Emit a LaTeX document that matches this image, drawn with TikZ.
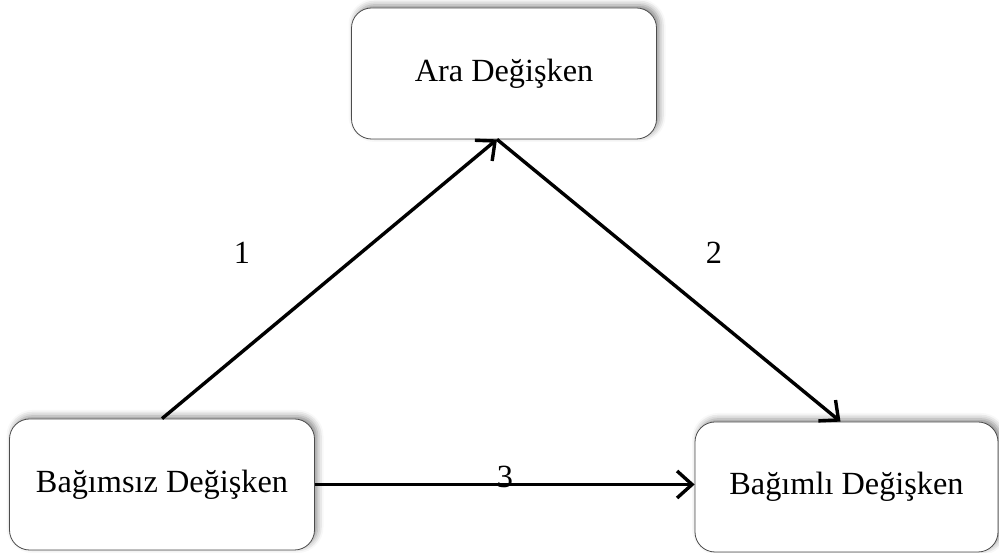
\documentclass[tikz,border=0pt]{standalone}
\usepackage{fontspec}
\setmainfont{Liberation Serif}
\usetikzlibrary{arrows.meta,shadows.blur}
\tikzset{
  varbox/.style={draw=black!70, line width=0.8pt, rounded corners=20pt, fill=white,
    minimum width=305pt, minimum height=131pt,
    blur shadow={shadow xshift=3pt, shadow yshift=3pt, shadow blur radius=6pt, shadow opacity=45},
    font=\fontsize{32.3}{38}\selectfont},
  yol/.style={line width=3.4pt, -{Straight Barb[length=15pt,width=27pt,line width=3.4pt]}},
  etiket/.style={font=\fontsize{32.3}{38}\selectfont}
}
\begin{document}
\begin{tikzpicture}[x=1pt,y=1pt]
  \useasboundingbox (0,0) rectangle (999,553);
  \node[varbox] (ara) at (504,479.5) {Ara Değişken};
  \node[varbox] (bagimsiz) at (162,68.5) {Bağımsız Değişken};
  \node[varbox, minimum width=303pt, minimum height=130pt] (bagimli) at (846.5,66) {Bağımlı Değişken};
  \draw[yol] (bagimsiz.north) -- ([xshift=-7pt]ara.south);
  \draw[yol] ([xshift=-7pt]ara.south) -- ([xshift=-6pt]bagimli.north);
  \draw[yol] (bagimsiz.east) -- (bagimli.west |- bagimsiz.east);
  \node[etiket] (e1) at (242,300) {1};
  \node[etiket] (e2) at (714,300) {2};
  \node[etiket] (e3) at (505,76) {3};
\end{tikzpicture}
\end{document}
